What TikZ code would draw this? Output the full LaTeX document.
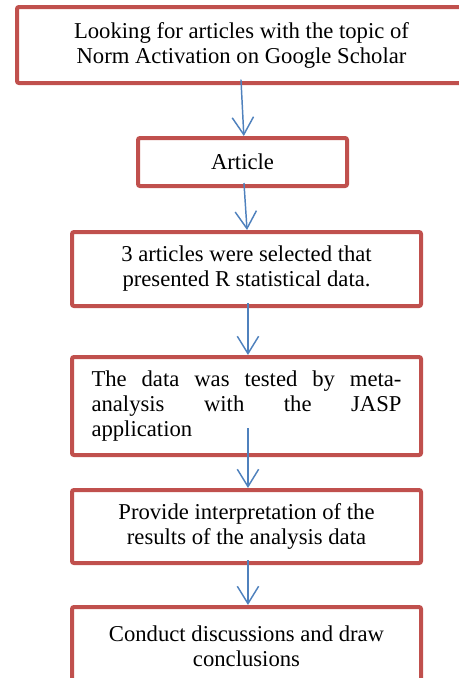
\documentclass[tikz,border=0pt]{standalone}
\usepackage{fontspec}
\setmainfont{Liberation Serif}
\usetikzlibrary{arrows.meta}

\definecolor{cajaroja}{HTML}{C0504D}
\definecolor{flechaazul}{HTML}{4F81BD}

\tikzset{
    caja/.style={draw=cajaroja, line width=3pt, rounded corners=1.5pt, fill=white,
        align=center, inner sep=2pt, font=\fontsize{17}{18.75}\selectfont},
    flecha/.style={draw=flechaazul, line width=1.1pt,
        -{Straight Barb[length=13pt, width=16pt, line width=1.1pt]}}
}

\begin{document}
\begin{tikzpicture}[x=0.75pt, y=-0.75pt]
        \useasboundingbox (0,0) rectangle (459,678);

        % Cajas
        \node[caja, minimum width=336.75pt, minimum height=57pt] (b1) at (241.5,45)
            {Looking for articles with the topic of\\Norm Activation on Google Scholar};
        \node[caja, minimum width=156.75pt, minimum height=36pt] (b2) at (242.5,162) {Article};
        \node[caja, minimum width=261.75pt, minimum height=55.5pt] (b3) at (246.5,269)
            {3 articles were selected that\\presented R statistical data.};
        \node[caja, minimum width=261.75pt, minimum height=73.5pt, text width=232.5pt,
            align=justify] (b4) at (246.5,406)
            {The data was tested by meta-\linebreak analysis with the JASP\linebreak application};
        \node[caja, minimum width=261.75pt, minimum height=54.75pt] (b5) at (246.5,526.5)
            {Provide interpretation of the\\results of the analysis data};
        \node[caja, minimum width=261.75pt, minimum height=58.5pt] (b6) at (246.5,646)
            {Conduct discussions and draw\\conclusions};

        % Flechas
        \draw[flecha] ([xshift=-0.4pt, yshift=4pt]b1.south) -- ([xshift=1pt]b2.north);
        \draw[flecha] ([xshift=1.1pt, yshift=3.75pt]b2.south) -- ([xshift=0.4pt]b3.north);
        \draw[flecha] ([xshift=1.1pt, yshift=3.75pt]b3.south) -- ([xshift=1.1pt]b4.north);
        \draw[flecha] ([xshift=1.1pt, yshift=21.75pt]b4.south) -- ([xshift=1.1pt]b5.north);
        \draw[flecha] ([xshift=1.1pt, yshift=3.75pt]b5.south) -- ([xshift=1.1pt]b6.north);
    \end{tikzpicture}
\end{document}
